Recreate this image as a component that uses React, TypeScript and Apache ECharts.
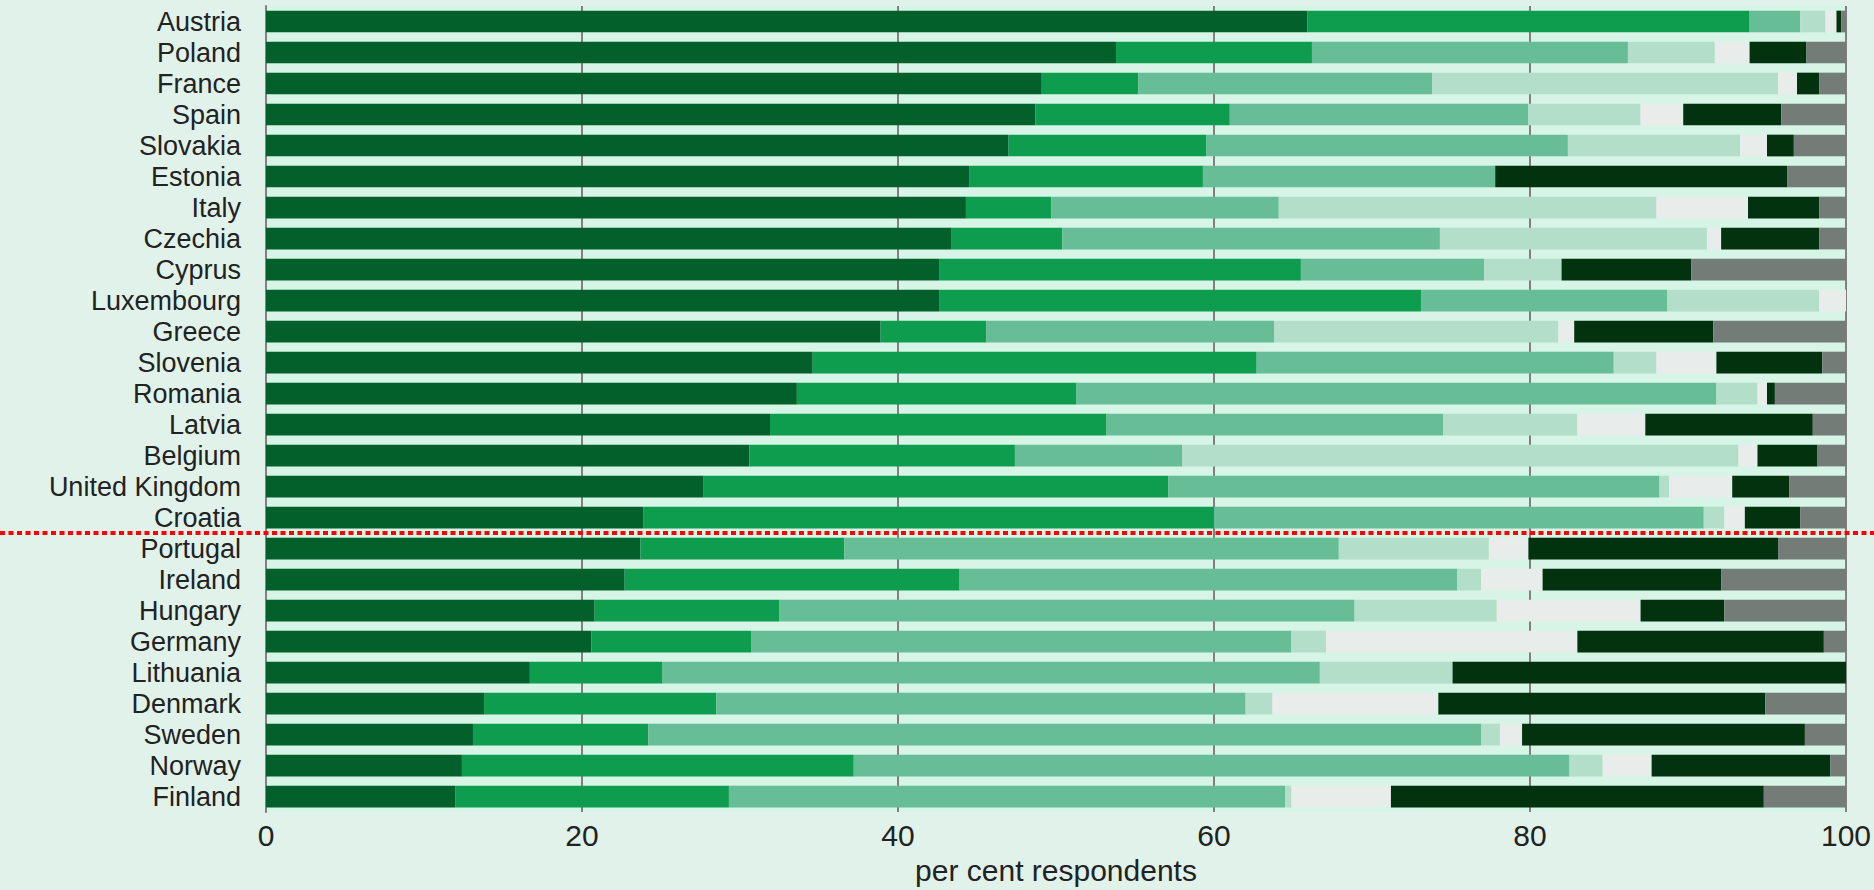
import React, { useEffect, useRef } from "react";
import * as echarts from "echarts";

const countries = [
  "Austria", "Poland", "France", "Spain", "Slovakia", "Estonia", "Italy", "Czechia", "Cyprus",
  "Luxembourg", "Greece", "Slovenia", "Romania", "Latvia", "Belgium", "United Kingdom", "Croatia",
  "Portugal", "Ireland", "Hungary", "Germany", "Lithuania", "Denmark", "Sweden", "Norway", "Finland",
];

const seg1 = [65.9, 53.8, 49.1, 48.7, 47.0, 44.5, 44.3, 43.4, 42.6, 42.6, 38.9, 34.6, 33.6, 31.9, 30.6, 27.7, 23.9, 23.7, 22.7, 20.8, 20.6, 16.7, 13.8, 13.1, 12.4, 12.0];
const seg2 = [28.0, 12.4, 6.1, 12.3, 12.5, 14.8, 5.4, 7.0, 22.9, 30.5, 6.7, 28.1, 17.7, 21.3, 16.8, 29.4, 36.1, 12.9, 21.2, 11.7, 10.1, 8.4, 14.7, 11.1, 24.8, 17.3];
const seg3 = [3.2, 20.0, 18.6, 18.9, 22.9, 18.5, 14.4, 23.9, 11.6, 15.6, 18.2, 22.6, 40.5, 21.3, 10.6, 31.1, 31.0, 31.3, 31.5, 36.4, 34.2, 41.6, 33.5, 52.7, 45.3, 35.2];
const seg4 = [1.6, 5.5, 21.9, 7.1, 10.9, 0, 23.9, 16.9, 4.9, 9.6, 18.0, 2.7, 2.6, 8.5, 35.2, 0.6, 1.3, 9.5, 1.5, 9.0, 2.2, 8.4, 1.7, 1.2, 2.1, 0.4];
const seg5 = [0.7, 2.2, 1.2, 2.7, 1.7, 0, 5.8, 0.9, 0, 1.7, 1.0, 3.8, 0.6, 4.3, 1.2, 4.0, 1.3, 2.5, 3.9, 9.1, 15.9, 0, 10.5, 1.4, 3.1, 6.3];
const seg6 = [0.3, 3.6, 1.4, 6.2, 1.7, 18.5, 4.5, 6.2, 8.2, 0, 8.8, 6.7, 0.5, 10.6, 3.8, 3.6, 3.5, 15.8, 11.3, 5.3, 15.6, 24.9, 20.7, 17.9, 11.3, 23.6];
const seg7 = [0.3, 2.5, 1.7, 4.1, 3.3, 3.7, 1.7, 1.7, 9.8, 0, 8.4, 1.5, 4.5, 2.1, 1.8, 3.6, 2.9, 4.3, 7.9, 7.7, 1.4, 0, 5.1, 2.6, 1.0, 5.2];

const segments = [seg1, seg2, seg3, seg4, seg5, seg6, seg7];
const colors = ["#04602B", "#0E9C4F", "#67BD95", "#B3DEC9", "#E8ECEA", "#03320F", "#737C77"];

const xTicks = { min: 0, max: 100, interval: 20 };
const FONT = "'Liberation Sans', Arial, Helvetica, sans-serif";

export default function App() {
  const ref = useRef<HTMLDivElement>(null);
  useEffect(() => {
    if (!ref.current) return;
    const chart = echarts.init(ref.current, undefined, { renderer: "svg" });
    chart.setOption({
      animation: false,
      backgroundColor: "#E0F2EA",
      grid: {
        left: 266,
        right: 27,
        top: 6,
        bottom: 71,
        show: true,
        backgroundColor: "#D6F5E6",
        borderWidth: 0,
      },
      xAxis: {
        type: "value",
        min: xTicks.min,
        max: xTicks.max,
        interval: xTicks.interval,
        name: "per cent respondents",
        nameLocation: "middle",
        nameGap: 44,
        nameTextStyle: { fontFamily: FONT, fontSize: 30, color: "#222", lineHeight: 24 },
        axisLine: { show: false },
        axisTick: { show: false },
        axisLabel: { fontFamily: FONT, fontSize: 30, color: "#222", margin: 10, lineHeight: 26 },
        splitLine: { show: true, lineStyle: { color: "#808080", width: 2 } },
      },
      yAxis: {
        type: "category",
        data: countries,
        inverse: true,
        axisLine: { show: true, lineStyle: { color: "#808080", width: 2 } },
        axisTick: { show: false },
        axisLabel: {
          interval: 0,
          fontFamily: FONT,
          fontSize: 27,
          lineHeight: 20,
          color: "#222",
          margin: 25,
          padding: [8, 0, 0, 0],
        },
      },
      series: segments.map((d, i) => ({
        type: "bar",
        stack: "total",
        data: d,
        barCategoryGap: "30%",
        itemStyle: { color: colors[i] },
      })),
    });
    const yA = chart.convertToPixel({ yAxisIndex: 0 }, "Croatia") as number;
    const yB = chart.convertToPixel({ yAxisIndex: 0 }, "Portugal") as number;
    const ySep = (yA + yB) / 2;
    chart.setOption({
      graphic: [
        {
          type: "line",
          z: 100,
          shape: { x1: 0, y1: ySep, x2: 1874, y2: ySep },
          style: { stroke: "#FF0000", lineWidth: 4, lineDash: [5, 3.5] },
        },
      ],
    });
    return () => chart.dispose();
  }, []);
  return (
    <div style={{ position: "fixed", left: 0, top: 0, width: 1874, height: 890, background: "#E0F2EA" }}>
      <div ref={ref} style={{ width: 1874, height: 890 }} />
    </div>
  );
}
